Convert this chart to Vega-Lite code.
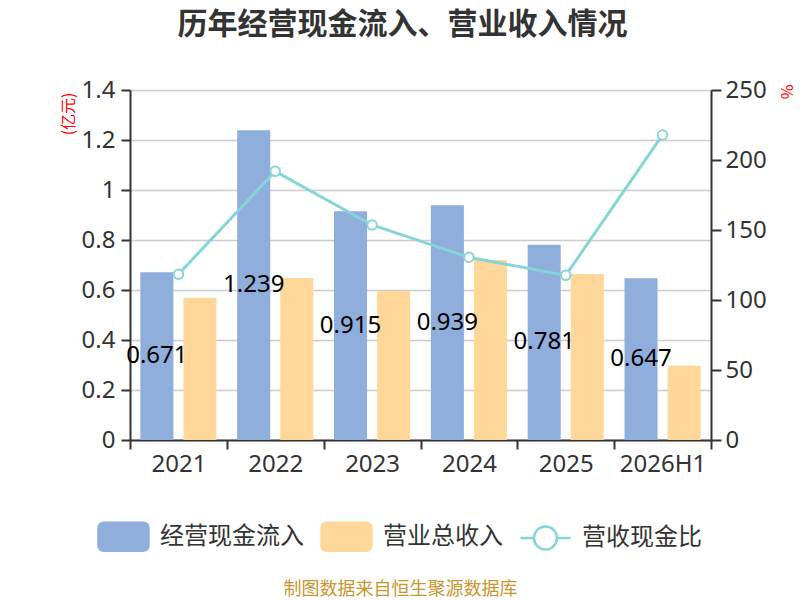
{
  "$schema": "https://vega.github.io/schema/vega-lite/v6.json",
  "width": 581,
  "height": 350,
  "autosize": {"type": "none"},
  "padding": {"left": 130, "top": 90, "right": 89, "bottom": 160},
  "background": "white",
  "title": {
    "text": "历年经营现金流入、营业收入情况",
    "font": "Noto Sans CJK SC",
    "fontSize": 30,
    "fontWeight": "bold",
    "color": "#333333",
    "anchor": "middle",
    "frame": "group",
    "dx": -18,
    "offset": 38
  },
  "datasets": {
    "bars": [
      {"year": "2021", "series": "经营现金流入", "value": 0.671},
      {"year": "2021", "series": "营业总收入", "value": 0.569},
      {"year": "2022", "series": "经营现金流入", "value": 1.239},
      {"year": "2022", "series": "营业总收入", "value": 0.648},
      {"year": "2023", "series": "经营现金流入", "value": 0.915},
      {"year": "2023", "series": "营业总收入", "value": 0.596},
      {"year": "2024", "series": "经营现金流入", "value": 0.939},
      {"year": "2024", "series": "营业总收入", "value": 0.72},
      {"year": "2025", "series": "经营现金流入", "value": 0.781},
      {"year": "2025", "series": "营业总收入", "value": 0.664},
      {"year": "2026H1", "series": "经营现金流入", "value": 0.647},
      {"year": "2026H1", "series": "营业总收入", "value": 0.297}
    ],
    "ratio": [
      {"year": "2021", "series": "营收现金比", "ratio": 118.4},
      {"year": "2022", "series": "营收现金比", "ratio": 191.9},
      {"year": "2023", "series": "营收现金比", "ratio": 153.6},
      {"year": "2024", "series": "营收现金比", "ratio": 130.5},
      {"year": "2025", "series": "营收现金比", "ratio": 117.6},
      {"year": "2026H1", "series": "营收现金比", "ratio": 217.9}
    ]
  },
  "encoding": {
    "x": {
      "field": "year",
      "type": "nominal",
      "sort": null,
      "scale": {"paddingInner": 0, "paddingOuter": 0},
      "axis": {
        "title": "制图数据来自恒生聚源数据库",
        "titleFont": "Noto Sans CJK SC",
        "titleFontSize": 18,
        "titleFontWeight": "normal",
        "titleColor": "#C8962E",
        "titleX": 270,
        "titleY": 149,
        "titleBaseline": "middle",
        "labelAngle": 0,
        "labelFont": "Noto Sans",
        "labelFontSize": 24,
        "labelColor": "#333333",
        "labelPadding": 3,
        "tickBand": "extent",
        "tickSize": 9,
        "tickWidth": 2,
        "tickColor": "#333333",
        "domainColor": "#333333",
        "domainWidth": 2
      }
    }
  },
  "layer": [
    {
      "layer": [
        {
          "data": {"name": "bars"},
          "mark": {"type": "bar"},
          "encoding": {
            "xOffset": {
              "field": "series",
              "type": "nominal",
              "sort": ["经营现金流入", "营业总收入"],
              "scale": {"paddingInner": 0.233, "paddingOuter": 0.24}
            },
            "y": {
              "field": "value",
              "type": "quantitative",
              "stack": null,
              "scale": {"domain": [0, 1.4]},
              "axis": {
                "title": "(亿元)",
                "titleFont": "Noto Sans CJK SC",
                "titleFontSize": 16,
                "titleFontWeight": "normal",
                "titleColor": "#FF0000",
                "titleAngle": -90,
                "titleAlign": "right",
                "titleBaseline": "middle",
                "titleX": -62,
                "titleY": 2,
                "values": [0, 0.2, 0.4, 0.6, 0.8, 1, 1.2, 1.4],
                "format": ".1~f",
                "labelFont": "Noto Sans",
                "labelFontSize": 24,
                "labelColor": "#333333",
                "labelPadding": 6,
                "tickSize": 9,
                "tickWidth": 2,
                "tickColor": "#333333",
                "domainColor": "#333333",
                "domainWidth": 2,
                "grid": true,
                "gridColor": "#CCCCCC",
                "gridWidth": 1.5
              }
            },
            "color": {
              "field": "series",
              "type": "nominal",
              "scale": {
                "domain": ["经营现金流入", "营业总收入", "营收现金比"],
                "range": ["#8FAEDB", "#FFD899", "#86D5D8"]
              },
              "legend": {
                "title": null,
                "orient": "none",
                "legendX": -33,
                "legendY": 420,
                "direction": "horizontal",
                "columns": 3,
                "columnPadding": 12,
                "symbolSize": 2500,
                "labelFont": "Noto Sans CJK SC",
                "labelFontSize": 24,
                "labelColor": "#333333",
                "labelOffset": 10,
                "encode": {
                  "symbols": {
                    "update": {
                      "shape": {"signal": "datum.value === '营收现金比' ? 'M-1,0H-0.46M0.46,0A0.46,0.46 0 1 1 -0.46,0A0.46,0.46 0 1 1 0.46,0ZM0.46,0H1' : 'M-0.8,-0.56H0.8A0.2,0.2 0 0 1 1,-0.36V0.36A0.2,0.2 0 0 1 0.8,0.56H-0.8A0.2,0.2 0 0 1 -1,0.36V-0.36A0.2,0.2 0 0 1 -0.8,-0.56Z'"},
                      "fillOpacity": {"signal": "datum.value === '营收现金比' ? 0 : 1"},
                      "stroke": {"signal": "datum.value === '营收现金比' ? '#86D5D8' : 'transparent'"},
                      "strokeWidth": {"value": 2.5}
                    }
                  }
                }
              }
            }
          }
        },
        {
          "data": {"name": "bars"},
          "transform": [{"filter": "datum.series === '经营现金流入'"}],
          "mark": {"type": "text", "font": "Noto Sans", "fontSize": 24, "color": "#000000", "baseline": "middle"},
          "encoding": {
            "xOffset": {"field": "series", "type": "nominal"},
            "y": {"field": "value", "type": "quantitative", "stack": "zero", "bandPosition": 0.5},
            "text": {"field": "value", "type": "quantitative", "format": ".3~f"}
          }
        }
      ]
    },
    {
      "data": {"name": "ratio"},
      "mark": {
        "type": "line",
        "strokeWidth": 3,
        "point": {"filled": false, "fill": "#FFFFFF", "size": 90, "strokeWidth": 2}
      },
      "encoding": {
        "y": {
          "field": "ratio",
          "type": "quantitative",
          "scale": {"domain": [0, 250]},
          "axis": {
            "orient": "right",
            "title": "%",
            "titleFont": "Noto Sans CJK SC",
            "titleFontSize": 16,
            "titleFontWeight": "normal",
            "titleColor": "#FF0000",
            "titleAngle": 90,
            "titleAlign": "left",
            "titleBaseline": "middle",
            "titleX": 74,
            "titleY": -6,
            "values": [0, 50, 100, 150, 200, 250],
            "labelFont": "Noto Sans",
            "labelFontSize": 24,
            "labelColor": "#333333",
            "labelPadding": 4,
            "tickSize": 10,
            "tickWidth": 2,
            "tickColor": "#333333",
            "domainColor": "#333333",
            "domainWidth": 2,
            "grid": false
          }
        },
        "color": {"field": "series", "type": "nominal"}
      }
    }
  ],
  "resolve": {"scale": {"y": "independent"}},
  "config": {
    "view": {"stroke": null}
  }
}
